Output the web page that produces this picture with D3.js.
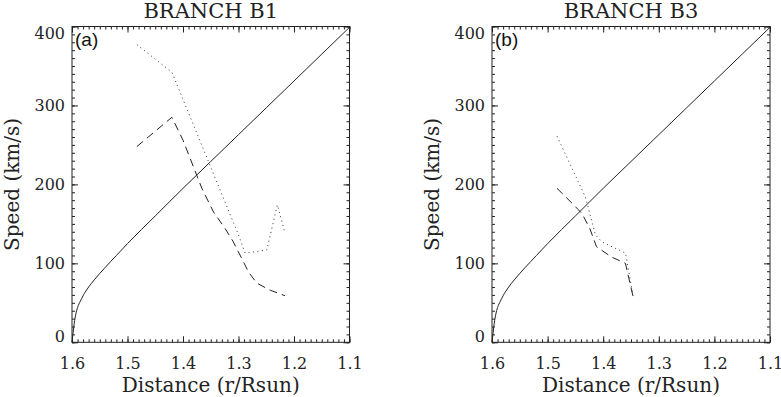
<!DOCTYPE html>
<html>
<head>
<meta charset="utf-8">
<script src="https://cdn.jsdelivr.net/npm/d3@7"></script>
<style>
  body { margin: 0; background: #fff; }
  svg { display: block; }
  .tick text { font-family: "DejaVu Serif", serif; font-size: 16px; fill: #222; }
  .tick line { stroke: #222; stroke-width: 1; }
</style>
</head>
<body>
<svg id="chart" width="781" height="397"></svg>
<script>
// axis ticks
var xTicks = [1.6, 1.5, 1.4, 1.3, 1.2, 1.1];
var yTicks = [0, 100, 200, 300, 400];

// solid curve (same in both panels)
var solidR = [1.6, 1.599, 1.598, 1.596, 1.593, 1.59, 1.585, 1.58, 1.57, 1.56, 1.54, 1.52, 1.50, 1.45, 1.40, 1.35, 1.30, 1.25, 1.20, 1.15, 1.10];
var solidV = [0, 6, 12, 24, 36, 44, 52, 59, 70, 79, 95, 110, 125, 160, 195, 229, 263, 297, 331, 365, 399];

// branch B1
var b1DotR = [1.483, 1.42, 1.30, 1.288, 1.249, 1.230, 1.216];
var b1DotV = [377, 342, 136, 113, 117, 174, 138];
var b1DashR = [1.483, 1.42, 1.40, 1.366, 1.345, 1.324, 1.31, 1.294, 1.282, 1.267, 1.243, 1.216];
var b1DashV = [248, 285, 256, 195, 165, 144, 128, 106, 89, 75, 66, 59];

// branch B3
var b3DotR = [1.483, 1.432, 1.414, 1.402, 1.36, 1.357, 1.346];
var b3DotV = [261, 184, 136, 127, 113, 102, 57];
var b3DashR = [1.483, 1.453, 1.438, 1.424, 1.412, 1.385, 1.36, 1.346];
var b3DashV = [195, 174, 163, 144, 121, 108, 100, 57];

var svg = d3.select("#chart");
var top_ = 26.5, bottom = 342.3;

function zip(r, v) {
	return r.map(function(d, i) { return [d, v[i]]; });
}

function drawPanel(left, right, title, tag, dotted, dashed) {
	var x = d3.scaleLinear().domain([1.6, 1.1]).range([left, right]);
	var y = d3.scaleLinear().domain([0, 400]).range([bottom, top_]);
	var g = svg.append("g");

	var xMinor = d3.range(160, 109, -1).map(function(d) { return d / 100; });
	var yMinor = d3.range(0, 401, 10);

	// minor ticks on all four sides
	g.append("g").attr("transform", "translate(0," + bottom + ")")
		.call(d3.axisBottom(x).tickValues(xMinor).tickSize(-3).tickFormat(""));
	g.append("g").attr("transform", "translate(0," + top_ + ")")
		.call(d3.axisTop(x).tickValues(xMinor).tickSize(-3).tickFormat(""));
	g.append("g").attr("transform", "translate(" + left + ",0)")
		.call(d3.axisLeft(y).tickValues(yMinor).tickSize(-3).tickFormat(""));
	g.append("g").attr("transform", "translate(" + right + ",0)")
		.call(d3.axisRight(y).tickValues(yMinor).tickSize(-3).tickFormat(""));

	// major ticks with labels
	g.append("g").attr("transform", "translate(0," + bottom + ")")
		.call(d3.axisBottom(x).tickValues(xTicks).tickSize(-6).tickPadding(15).tickFormat(d3.format(".1f")));
	g.append("g").attr("transform", "translate(0," + top_ + ")")
		.call(d3.axisTop(x).tickValues(xTicks).tickSize(-6).tickFormat(""));
	var yAx = g.append("g").attr("transform", "translate(" + left + ",0)")
		.call(d3.axisLeft(y).tickValues(yTicks).tickSize(-6).tickPadding(7).tickFormat(d3.format("d")));
	g.append("g").attr("transform", "translate(" + right + ",0)")
		.call(d3.axisRight(y).tickValues(yTicks).tickSize(-6).tickFormat(""));

	// end labels sit inside the frame, like the original
	yAx.selectAll(".tick text")
		.attr("dy", function(d) { return d == 400 ? "0.75em" : d == 0 ? "-0.05em" : "0.32em"; });

	g.selectAll(".domain").remove();

	g.append("rect")
		.attr("x", left).attr("y", top_)
		.attr("width", right - left).attr("height", bottom - top_)
		.attr("fill", "none").attr("stroke", "#222").attr("stroke-width", 1);

	var line = d3.line()
		.x(function(d) { return x(d[0]); })
		.y(function(d) { return y(d[1]); });

	g.append("path").datum(zip(solidR, solidV))
		.attr("d", line.curve(d3.curveMonotoneX))
		.attr("fill", "none").attr("stroke", "#222").attr("stroke-width", 1);
	line.curve(d3.curveLinear);
	g.append("path").datum(dotted)
		.attr("d", line)
		.attr("fill", "none").attr("stroke", "#333").attr("stroke-width", 1)
		.attr("stroke-dasharray", "1,3.5");
	g.append("path").datum(dashed)
		.attr("d", line)
		.attr("fill", "none").attr("stroke", "#222").attr("stroke-width", 1)
		.attr("stroke-dasharray", "8,5");

	svg.append("text")
		.attr("x", (left + right) / 2).attr("y", 18)
		.attr("text-anchor", "middle")
		.style("font-family", "DejaVu Serif").style("font-size", "21px").style("fill", "#222")
		.text(title);

	svg.append("text")
		.attr("x", (left + right) / 2).attr("y", 392)
		.attr("text-anchor", "middle")
		.style("font-family", "DejaVu Serif").style("font-size", "20px").style("fill", "#222")
		.text("Distance (r/Rsun)");

	svg.append("text")
		.attr("transform", "translate(" + (left - 53) + "," + (top_ + bottom) / 2 + ") rotate(-90)")
		.attr("text-anchor", "middle")
		.style("font-family", "DejaVu Serif").style("font-size", "20px").style("fill", "#222")
		.text("Speed (km/s)");

	svg.append("text")
		.attr("x", left + 3).attr("y", 46)
		.style("font-family", "Liberation Sans").style("font-size", "19px").style("fill", "#111")
		.text(tag);
}

drawPanel(72, 349.5, "BRANCH B1", "(a)", zip(b1DotR, b1DotV), zip(b1DashR, b1DashV));
drawPanel(492, 770, "BRANCH B3", "(b)", zip(b3DotR, b3DotV), zip(b3DashR, b3DashV));
</script>
</body>
</html>
